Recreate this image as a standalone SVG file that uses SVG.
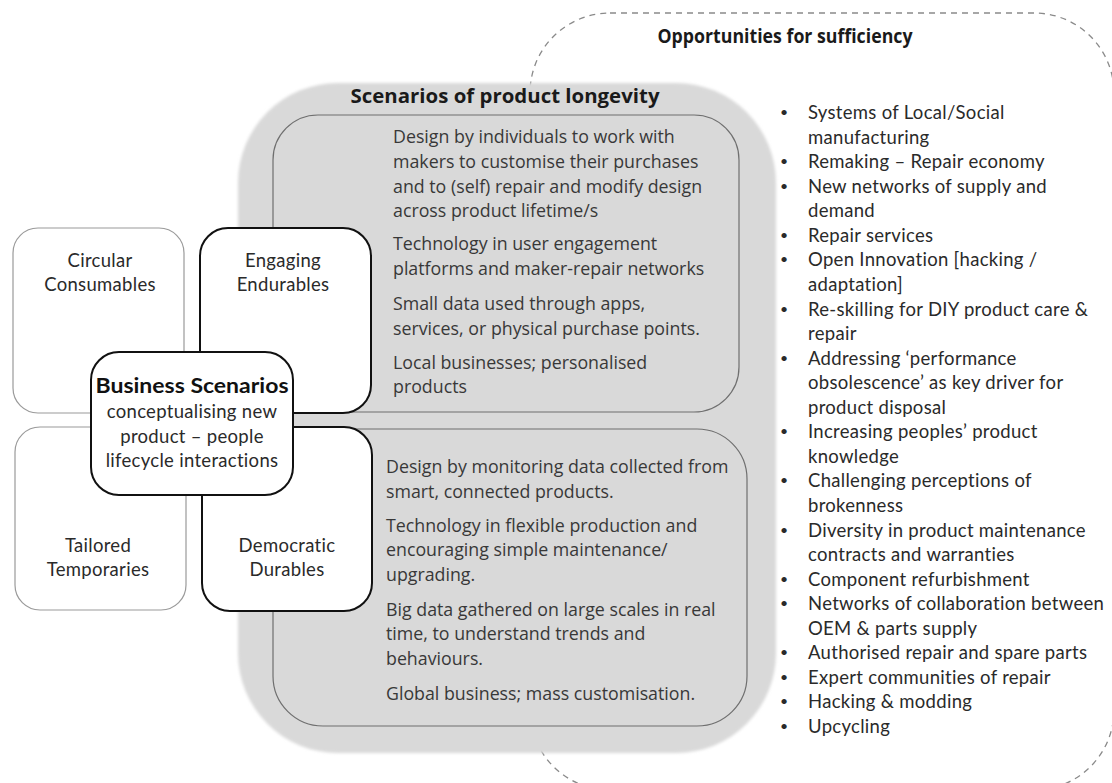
<svg xmlns="http://www.w3.org/2000/svg" width="1112" height="783" viewBox="0 0 1112 783">
<defs>
<filter id="soft" x="-5%" y="-5%" width="110%" height="110%"><feGaussianBlur stdDeviation="1.8"/></filter>
</defs>
<style>
.dash{fill:none;stroke:#8a8a8a;stroke-width:1.3;stroke-dasharray:6 5}
.grey{fill:#d9d9d9}
.inner{fill:#d9d9d9;stroke:#6f6f6f;stroke-width:1.2}
.q{fill:#fff;stroke:#9a9a9a;stroke-width:1.2}
.qb{fill:#fff;stroke:#111;stroke-width:2}
.cal{font-family:"Open Sans",sans-serif;font-size:17.8px;fill:#383838}
.calb{font-family:"Open Sans",sans-serif;font-size:19px;font-weight:bold;fill:#1a1a1a}
.gill{font-family:Lato,sans-serif;font-size:18.5px;letter-spacing:0.3px;fill:#2a2a2a}
.gillb{font-family:Lato,sans-serif;font-size:20px;font-weight:bold;fill:#111}
.bul{font-size:14px;letter-spacing:0}
.c{text-anchor:middle}
</style>
<rect width="1112" height="783" fill="#fff"/>
<g id="opportunities">
<rect class="dash" x="530" y="13" width="584" height="777" rx="80"/>
<text class="calb c" x="785" y="43" textLength="255" lengthAdjust="spacingAndGlyphs">Opportunities for sufficiency</text>
<g class="gill">
<text class="bul" x="780" y="117">•</text><text x="808" y="119">Systems of Local/Social</text>
<text x="808" y="143.6">manufacturing</text>
<text class="bul" x="780" y="166.1">•</text><text x="808" y="168.1">Remaking – Repair economy</text>
<text class="bul" x="780" y="190.7">•</text><text x="808" y="192.7">New networks of supply and</text>
<text x="808" y="217.2">demand</text>
<text class="bul" x="780" y="239.8">•</text><text x="808" y="241.8">Repair services</text>
<text class="bul" x="780" y="264.4">•</text><text x="808" y="266.4">Open Innovation [hacking /</text>
<text x="808" y="290.9">adaptation]</text>
<text class="bul" x="780" y="313.5">•</text><text x="808" y="315.5">Re-skilling for DIY product care &amp;</text>
<text x="808" y="340">repair</text>
<text class="bul" x="780" y="362.6">•</text><text x="808" y="364.6">Addressing ‘performance</text>
<text x="808" y="389.2">obsolescence’ as key driver for</text>
<text x="808" y="413.7">product disposal</text>
<text class="bul" x="780" y="436.3">•</text><text x="808" y="438.3">Increasing peoples’ product</text>
<text x="808" y="462.8">knowledge</text>
<text class="bul" x="780" y="485.4">•</text><text x="808" y="487.4">Challenging perceptions of</text>
<text x="808" y="512">brokenness</text>
<text class="bul" x="780" y="534.5">•</text><text x="808" y="536.5">Diversity in product maintenance</text>
<text x="808" y="561.1">contracts and warranties</text>
<text class="bul" x="780" y="583.6">•</text><text x="808" y="585.6">Component refurbishment</text>
<text class="bul" x="780" y="608.2">•</text><text x="808" y="610.2">Networks of collaboration between</text>
<text x="808" y="634.8">OEM &amp; parts supply</text>
<text class="bul" x="780" y="657.3">•</text><text x="808" y="659.3">Authorised repair and spare parts</text>
<text class="bul" x="780" y="681.9">•</text><text x="808" y="683.9">Expert communities of repair</text>
<text class="bul" x="780" y="706.4">•</text><text x="808" y="708.4">Hacking &amp; modding</text>
<text class="bul" x="780" y="731">•</text><text x="808" y="733">Upcycling</text>
</g>
</g>
<g id="longevity">
<rect class="grey" x="238" y="83" width="538" height="670" rx="100" filter="url(#soft)"/>
<text class="calb c" x="505" y="103" textLength="309" lengthAdjust="spacingAndGlyphs">Scenarios of product longevity</text>
</g>
<g id="engaging-detail">
<rect class="inner" x="273" y="115" width="466" height="297" rx="45"/>
<g class="cal">
<text x="393" y="143">Design by individuals to work with</text>
<text x="393" y="168">makers to customise their purchases</text>
<text x="393" y="193">and to (self) repair and modify design</text>
<text x="393" y="217">across product lifetime/s</text>
<text x="393" y="250">Technology in user engagement</text>
<text x="393" y="275">platforms and maker-repair networks</text>
<text x="393" y="310">Small data used through apps,</text>
<text x="393" y="335">services, or physical purchase points.</text>
<text x="393" y="369">Local businesses; personalised</text>
<text x="393" y="393">products</text>
</g>
</g>
<g id="democratic-detail">
<rect class="inner" x="273" y="429" width="474" height="297" rx="50"/>
<g class="cal">
<text x="386" y="473">Design by monitoring data collected from</text>
<text x="386" y="498">smart, connected products.</text>
<text x="386" y="532">Technology in flexible production and</text>
<text x="386" y="556">encouraging simple maintenance/</text>
<text x="386" y="581">upgrading.</text>
<text x="386" y="616">Big data gathered on large scales in real</text>
<text x="386" y="640">time, to understand trends and</text>
<text x="386" y="665">behaviours.</text>
<text x="386" y="700">Global business; mass customisation.</text>
</g>
</g>
<g id="circular-consumables">
<rect class="q" x="13" y="228" width="171" height="185" rx="25"/>
<text class="gill c" x="100" y="267">Circular</text>
<text class="gill c" x="100" y="291">Consumables</text>
</g>
<g id="engaging-endurables">
<rect class="qb" x="200" y="228" width="171" height="185" rx="28"/>
<text class="gill c" x="283" y="267">Engaging</text>
<text class="gill c" x="283" y="291">Endurables</text>
</g>
<g id="tailored-temporaries">
<rect class="q" x="15" y="427" width="171" height="183" rx="25"/>
<text class="gill c" x="98" y="552">Tailored</text>
<text class="gill c" x="98" y="576">Temporaries</text>
</g>
<g id="democratic-durables">
<rect class="qb" x="202" y="427" width="170" height="184" rx="28"/>
<text class="gill c" x="287" y="552">Democratic</text>
<text class="gill c" x="287" y="576">Durables</text>
</g>
<g id="business-scenarios">
<rect class="qb" x="91" y="352" width="202" height="143" rx="28"/>
<text class="gillb c" x="192" y="393" textLength="193" lengthAdjust="spacingAndGlyphs">Business Scenarios</text>
<text class="gill c" x="192" y="418">conceptualising new</text>
<text class="gill c" x="192" y="443">product – people</text>
<text class="gill c" x="192" y="467">lifecycle interactions</text>
</g>
<g id="connectors"/>
</svg>
